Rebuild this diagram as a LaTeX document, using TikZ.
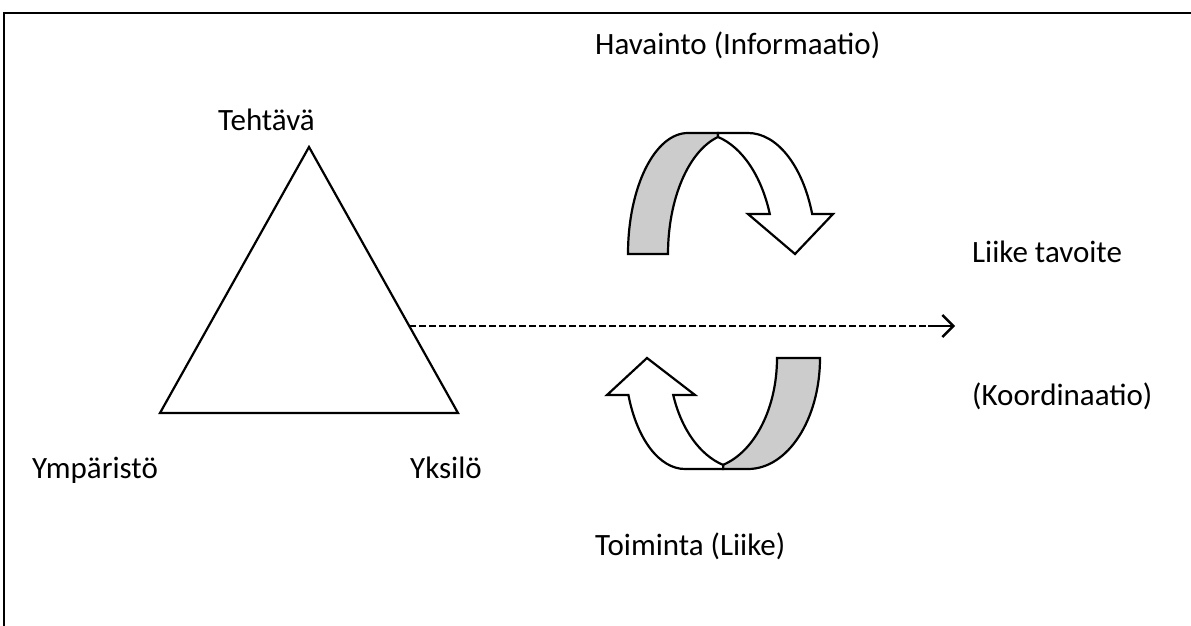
\documentclass[tikz,border=0pt]{standalone}
\usepackage{fontspec}
\setmainfont{Carlito}
\usetikzlibrary{calc,arrows.meta}
\definecolor{bandgray}{HTML}{CCCCCC}
\begin{document}
\begin{tikzpicture}[x=1pt,y=-1pt,
  lbl/.style={inner sep=0pt,anchor=base west,font=\fontsize{31}{37}\selectfont},
  outl/.style={draw=black,line width=2.2pt,line join=miter},
  frm/.style={draw=black,line width=2pt}]
\useasboundingbox (0,0) rectangle (1191,626);
% frame (partially visible)
\draw[frm] (4,626) -- (4,13) -- (1191,13);
% triangle
\coordinate (apex) at (309,147);
\coordinate (lft) at (160,413);
\coordinate (rgt) at (458,413);
\draw[outl] (apex) -- (lft) -- (rgt) -- cycle;
% labels
\node[lbl] (teht) at (218,130) {Tehtävä};
\node[lbl] (ymp) at (32,478) {Ympäristö};
\node[lbl] (yks) at (410,478) {Yksilö};
\node[lbl] (hav) at (595,55) {Havainto (Informaatio)};
\node[lbl] (liike) at (972,262) {Liike tavoite};
\node[lbl] (koord) at (972,405) {(Koordinaatio)};
\node[lbl] (toim) at (595,555) {Toiminta (Liike)};
% dashed arrow
\coordinate (dstart) at ($(apex)!0.673!(rgt)$);
\coordinate (dend) at (955,326);
\coordinate (dmid) at (928,326);
\draw[line width=2pt,dash pattern=on 7pt off 3pt] (dstart|-dend) -- (dmid);
\draw[line width=2.4pt,-{Straight Barb[length=11pt,width=22pt,line width=2.4pt]}] (dmid) -- (dend);
% top curved arrow
\coordinate (tgc) at (688,254);  % gray outer centre
\coordinate (tgi) at (735,254);  % gray inner centre
\coordinate (twi) at (699,254);  % white inner centre
\coordinate (twc) at (748,254);  % white outer centre
\path[outl,fill=bandgray] ($(tgc)+(180:60 and 121)$)
  arc[start angle=180,end angle=270,x radius=60,y radius=121]
  -- (718,133) -- ($(tgi)+(255.3:67 and 121)$)
  arc[start angle=255.3,end angle=180,x radius=67,y radius=121] -- cycle;
\path[outl,fill=white] (718,133) -- ($(twc)+(270:68 and 121)$)
  arc[start angle=270,end angle=340.7,x radius=68,y radius=121]
  -- (833,214) -- (795,254) -- (748,214)
  -- ($(twi)+(340.7:75 and 121)$)
  arc[start angle=340.7,end angle=284.7,x radius=75,y radius=121] -- cycle;
% bottom curved arrow
\coordinate (bgc) at (748,358);  % gray outer centre
\coordinate (bgi) at (703,358);  % gray inner centre
\coordinate (bwi) at (743,358);  % white inner centre
\coordinate (bwc) at (685,358);  % white outer centre
\path[outl,fill=bandgray] ($(bgc)+(0:72 and 111)$)
  arc[start angle=0,end angle=90,x radius=72,y radius=111]
  -- (723,469) -- ($(bgi)+(74.6:74 and 111)$)
  arc[start angle=74.6,end angle=0,x radius=74,y radius=111] -- cycle;
\path[outl,fill=white] (723,469) -- ($(bwc)+(90:60 and 111)$)
  arc[start angle=90,end angle=160.5,x radius=60,y radius=111]
  -- (607,395) -- (647,358) -- (695,395)
  -- ($(bwi)+(160.5:74 and 111)$)
  arc[start angle=160.5,end angle=105.4,x radius=74,y radius=111] -- cycle;
\end{tikzpicture}
\end{document}
